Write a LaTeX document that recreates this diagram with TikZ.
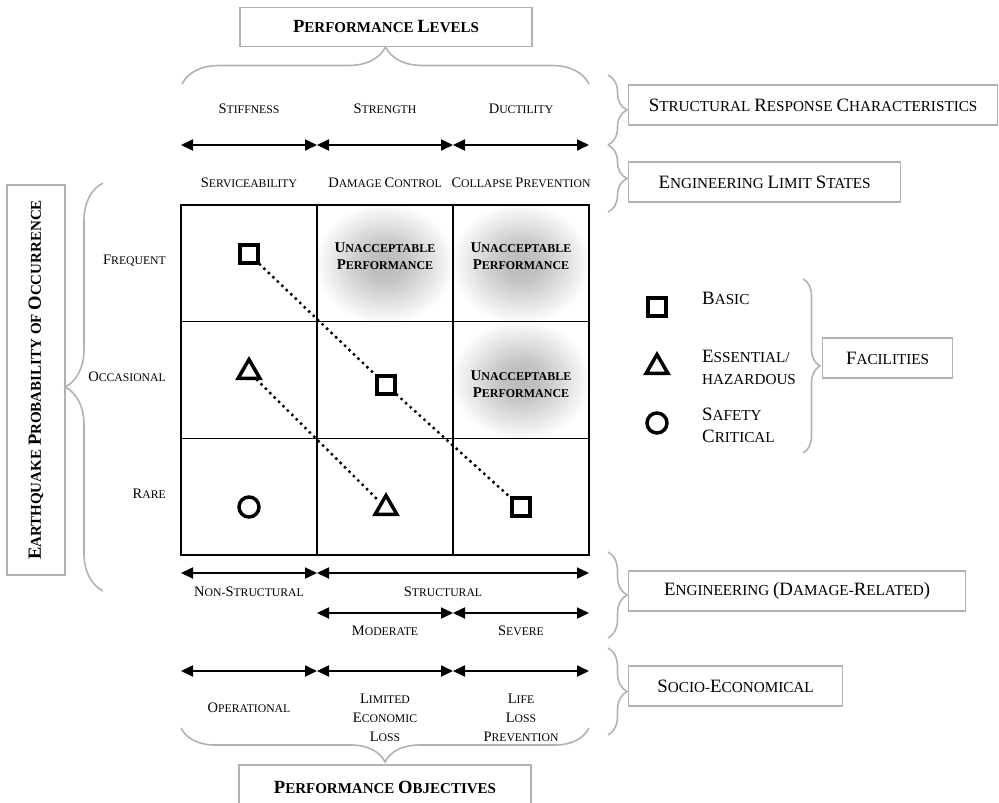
\documentclass[tikz,border=0pt]{standalone}
\usepackage{fontspec}
\setmainfont{Liberation Serif}
\usetikzlibrary{arrows.meta,shapes.geometric,decorations.pathreplacing}
\makeatletter
\newcommand\Up[1]{{\fontsize{\fpeval{1.24*\f@size}}{\f@baselineskip}\selectfont #1}}
\makeatother
\pgfdeclareradialshading{glow}{\pgfpoint{0bp}{0bp}}{color(0bp)=(gray!55); color(8bp)=(gray!46); color(19bp)=(gray!18); color(26bp)=(white); color(50bp)=(white)}

\begin{document}
\begin{tikzpicture}[
  x=1pt, y=-1pt,
  font=\fontsize{11.7}{19}\selectfont,
  lbl/.style={align=center, inner sep=0pt},
  big/.style={font=\fontsize{15.2}{22}\selectfont, align=left, inner sep=0pt},
  badtxt/.style={align=center, inner sep=0pt, font=\bfseries\fontsize{12}{17}\selectfont},
  title/.style={draw=gray!60, line width=1.2pt, font=\bfseries\fontsize{15}{18}\selectfont, minimum width=292pt, minimum height=39pt},
  rbox/.style={draw=gray!60, line width=1.2pt, font=\fontsize{15.2}{22}\selectfont, minimum height=40pt, anchor=west},
  brc/.style={decorate, decoration={brace, amplitude=#1}, draw=gray!60, line width=1.6pt},
  dbl/.style={{Triangle[length=12pt,width=11pt]}-{Triangle[length=12pt,width=11pt]}, line width=1.8pt},
  cell/.style={draw, line width=1.6pt, minimum width=136pt, minimum height=116.7pt},
  bad/.style={shading=glow},
  ok/.style={},
  fsq/.style={draw, line width=3.8pt, minimum size=18pt, inner sep=0pt},
  ftri/.style={draw, regular polygon, regular polygon sides=3, line width=3.5pt, minimum size=25pt, inner sep=0pt},
  fcirc/.style={draw, circle, line width=3.5pt, minimum size=20pt, inner sep=0pt},
  dots/.style={line width=3.4pt, line cap=round, dash pattern=on 0pt off 6.2pt}
]
\useasboundingbox (0,0) rectangle (999,803);

% grid
\foreach \r/\c/\s in {0/0/ok,0/1/bad,0/2/bad,1/0/ok,1/1/ok,1/2/bad,2/0/ok,2/1/ok,2/2/ok}
  \node[cell, \s] (c\r\c) at ({249+136*\c}, {263.3+116.7*\r}) {};

\node[badtxt] (u01) at (385,256) {\Up{U}NACCEPTABLE\\\Up{P}ERFORMANCE};
\node[badtxt] (u02) at (521,256) {\Up{U}NACCEPTABLE\\\Up{P}ERFORMANCE};
\node[badtxt] (u12) at (521,384) {\Up{U}NACCEPTABLE\\\Up{P}ERFORMANCE};

\node[fsq] (sq1) at (249,254) {};
\node[ftri] (tr1) at (249,372) {};
\node[fcirc] (ci1) at (249,507) {};
\node[fsq] (sq2) at (386,385) {};
\node[ftri] (tr2) at (386,508) {};
\node[fsq] (sq3) at (521,507) {};
\draw[dots] (sq1) -- (sq2);
\draw[dots] (sq2) -- (sq3);
\draw[dots] (tr1) -- (tr2);

% arrows
\foreach \r/\y in {a/145,b/573,c/613,d/671}
  \foreach \i/\x in {0/181,1/317,2/453,3/589}
    \coordinate (\r\i) at (\x,\y);
\foreach \p/\q in {a0/a1,a1/a2,a2/a3,b0/b1,b1/b3,c1/c2,c2/c3,d0/d1,d1/d2,d2/d3}
  \draw[dbl] (\p) -- (\q);

% top
\node[title] (plev) at (386,27) {\Up{P}ERFORMANCE \Up{L}EVELS};
\draw[brc=37] (182,84) -- (589,84);
\node[lbl] (stif) at (249,109) {\Up{S}TIFFNESS};
\node[lbl] (stre) at (385,109) {\Up{S}TRENGTH};
\node[lbl] (duct) at (521,109) {\Up{D}UCTILITY};
\node[lbl] (serv) at (249,183) {\Up{S}ERVICEABILITY};
\node[lbl] (dmg) at (385,183) {\Up{D}AMAGE \Up{C}ONTROL};
\node[lbl] (col) at (521,183) {\Up{C}OLLAPSE \Up{P}REVENTION};

\draw[brc=19] (608,75) -- (608,145);
\draw[brc=19] (608,145) -- (608,212);
\node[rbox, minimum width=369pt] (src) at (628,105) {\Up{S}TRUCTURAL \Up{R}ESPONSE \Up{C}HARACTERISTICS};
\node[rbox, minimum width=272pt] (els) at (628,182) {\Up{E}NGINEERING \Up{L}IMIT \Up{S}TATES};

% left
\node[title, rotate=90, minimum width=390pt, minimum height=58pt] (quake) at (36,380)
  {\Up{E}ARTHQUAKE \Up{P}ROBABILITY OF \Up{O}CCURRENCE};
\draw[brc=38] (103,591) -- (103,183);
\node[lbl, anchor=east] (freq) at (166,261) {\Up{F}REQUENT};
\node[lbl, anchor=east] (occ) at (166,377) {\Up{O}CCASIONAL};
\node[lbl, anchor=east] (rare) at (166,494) {\Up{R}ARE};

% legend
\node[fsq] (lsq) at (657,307) {};
\node[ftri] (ltr) at (657,367) {};
\node[fcirc] (lci) at (657,423) {};
\node[big, anchor=west] (basic) at (702,298) {\Up{B}ASIC};
\node[big, anchor=west] (ess) at (702,367) {\Up{E}SSENTIAL/\\HAZARDOUS};
\node[big, anchor=west] (safe) at (702,425) {\Up{S}AFETY\\\Up{C}RITICAL};
\draw[brc=17] (803,279) -- (803,453);
\node[rbox, minimum width=130pt] (fac) at (822,358) {\Up{F}ACILITIES};

% bottom
\node[lbl] (nons) at (249,592) {\Up{N}ON-\Up{S}TRUCTURAL};
\node[lbl] (stru) at (443,592) {\Up{S}TRUCTURAL};
\node[lbl] (mod) at (385,631) {\Up{M}ODERATE};
\node[lbl] (sev) at (521,631) {\Up{S}EVERE};
\node[lbl] (oper) at (249,708) {\Up{O}PERATIONAL};
\node[lbl] (lim) at (385,718) {\Up{L}IMITED\\\Up{E}CONOMIC\\\Up{L}OSS};
\node[lbl] (life) at (521,718) {\Up{L}IFE\\\Up{L}OSS\\\Up{P}REVENTION};
\draw[brc=34] (589,728) -- (181,728);
\node[title, minimum height=44pt] (pobj) at (385,787) {\Up{P}ERFORMANCE \Up{O}BJECTIVES};

\draw[brc=19] (608,552) -- (608,638);
\draw[brc=19] (608,648) -- (608,735);
\node[rbox, minimum width=337pt] (eng) at (628,591) {\Up{E}NGINEERING \Up{(D}AMAGE-\Up{R}ELATED\Up{)}};
\node[rbox, minimum width=214pt] (soc) at (628,686) {\Up{S}OCIO-\Up{E}CONOMICAL};

\end{tikzpicture}
\end{document}
